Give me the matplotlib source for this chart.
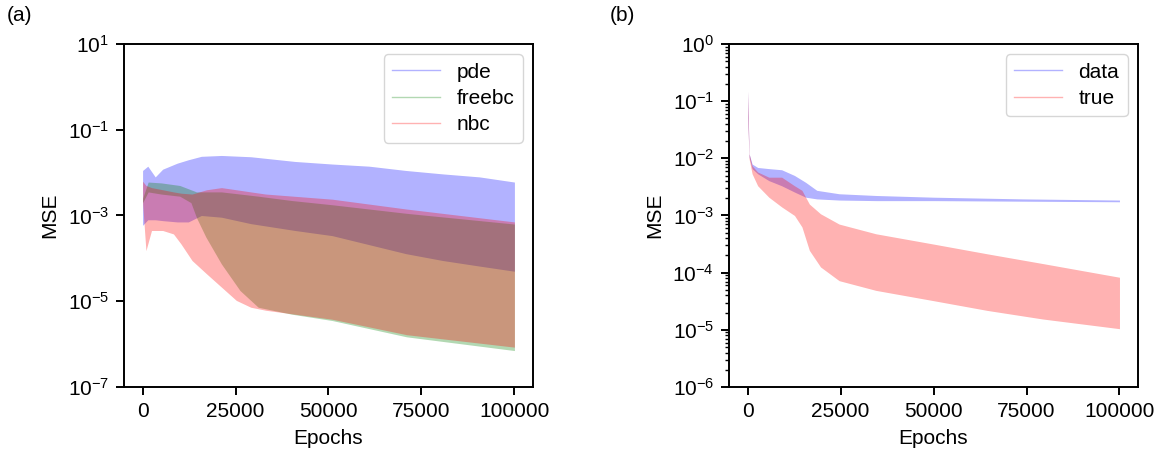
import numpy as np
import matplotlib
matplotlib.use("Agg")
import matplotlib.pyplot as plt
from matplotlib.lines import Line2D

plt.rcParams['font.family'] = ['Liberation Sans', 'DejaVu Sans']
plt.rcParams['font.size'] = 15

# ---- panel (a): envelopes of the noisy loss curves, log10(MSE) ----
pde_ep = [0, 1400, 3400, 5400, 9300, 12300, 15800, 21200, 29100, 41000, 51000, 60900, 70800, 80700, 90600, 100000]
pde_hi = [-1.95, -1.85, -2.1, -1.92, -1.78, -1.7, -1.62, -1.6, -1.63, -1.74, -1.8, -1.85, -1.95, -2.03, -2.1, -2.22]
pde_lo = [-3.23, -3.1, -3.1, -3.12, -3.15, -3.15, -3.0, -3.04, -3.19, -3.35, -3.47, -3.68, -3.89, -4.05, -4.18, -4.30]

freebc_ep = [0, 1500, 5000, 10000, 13000, 14500, 17000, 21200, 26200, 31100, 40000, 51000, 71000, 100000]
freebc_hi = [-2.6, -2.22, -2.24, -2.3, -2.4, -2.45, -2.45, -2.45, -2.5, -2.55, -2.65, -2.75, -2.95, -3.2]
freebc_lo = [-2.7, -2.45, -2.5, -2.55, -2.7, -3.05, -3.5, -4.13, -4.75, -5.14, -5.3, -5.45, -5.83, -6.15]

nbc_ep = [0, 900, 2400, 5400, 8300, 10300, 13300, 17200, 21200, 25200, 29100, 33100, 51000, 71000, 100000]
nbc_hi = [-2.2, -2.3, -2.35, -2.4, -2.45, -2.48, -2.5, -2.4, -2.35, -2.4, -2.45, -2.5, -2.62, -2.85, -3.15]
nbc_lo = [-2.7, -3.82, -3.35, -3.35, -3.43, -3.66, -4.05, -4.36, -4.67, -4.98, -5.14, -5.21, -5.42, -5.78, -6.07]

# ---- panel (b) ----
data_ep = [0, 400, 1200, 2700, 5700, 9150, 12600, 15600, 18600, 24600, 34500, 50000, 74300, 100000]
data_hi = [-0.82, -1.92, -2.10, -2.16, -2.18, -2.20, -2.30, -2.42, -2.56, -2.62, -2.65, -2.68, -2.71, -2.73]
data_lo = [-1.28, -1.98, -2.18, -2.27, -2.39, -2.48, -2.59, -2.68, -2.71, -2.73, -2.74, -2.74, -2.75, -2.76]

true_ep = [0, 400, 1200, 2700, 5700, 9150, 12600, 14600, 16600, 19600, 24600, 34500, 50000, 64400, 79300, 100000]
true_hi = [-0.82, -1.92, -2.13, -2.24, -2.33, -2.33, -2.48, -2.56, -2.80, -2.97, -3.15, -3.32, -3.50, -3.67, -3.84, -4.08]
true_lo = [-1.28, -2.01, -2.27, -2.48, -2.68, -2.85, -3.00, -3.20, -3.61, -3.90, -4.14, -4.31, -4.49, -4.66, -4.81, -4.98]


def band(ax, ep, lo, hi, color):
    ax.fill_between(ep, 10.0 ** np.array(lo), 10.0 ** np.array(hi),
                    color=color, alpha=0.3, lw=0)


fig = plt.figure(figsize=(11.62, 4.58), dpi=100)
ax1 = fig.add_axes([0.1067, 0.155, 0.352, 0.749])
ax2 = fig.add_axes([0.6274, 0.155, 0.352, 0.749])

band(ax1, pde_ep, pde_lo, pde_hi, 'b')
band(ax1, freebc_ep, freebc_lo, freebc_hi, 'g')
band(ax1, nbc_ep, nbc_lo, nbc_hi, 'r')
band(ax2, data_ep, data_lo, data_hi, 'b')
band(ax2, true_ep, true_lo, true_hi, 'r')

for ax in (ax1, ax2):
    ax.set_yscale('log')
    ax.set_xlim(-5000, 105000)
    ax.set_xticks([0, 25000, 50000, 75000, 100000])
    ax.set_xlabel('Epochs', labelpad=6)
    ax.set_ylabel('MSE', labelpad=6)
    ax.tick_params(which='major', length=5.8, width=1.4, pad=5)
    ax.tick_params(which='minor', length=3.2, width=1.0)
    for s in ax.spines.values():
        s.set_linewidth(1.4)

ax1.set_ylim(1e-7, 1e1)
ax1.set_yticks([1e1, 1e-1, 1e-3, 1e-5, 1e-7])
ax1.minorticks_off()
ax1.tick_params(axis='x', which='minor', bottom=False)
ax2.set_ylim(1e-6, 1e0)
ax2.tick_params(axis='x', which='minor', bottom=False)

h1 = [Line2D([], [], color=c, alpha=0.3, lw=1) for c in ('b', 'g', 'r')]
ax1.legend(h1, ['pde', 'freebc', 'nbc'], loc='upper right', handlelength=2.3,
           borderpad=0.4, labelspacing=0.35)
h2 = [Line2D([], [], color=c, alpha=0.3, lw=1) for c in ('b', 'r')]
ax2.legend(h2, ['data', 'true'], loc='upper right', handlelength=2.3,
           borderpad=0.4, labelspacing=0.35)

fig.text(0.006, 0.966, '(a)', va='center')
fig.text(0.525, 0.966, '(b)', va='center')

fig.savefig('out.png', dpi=100)
